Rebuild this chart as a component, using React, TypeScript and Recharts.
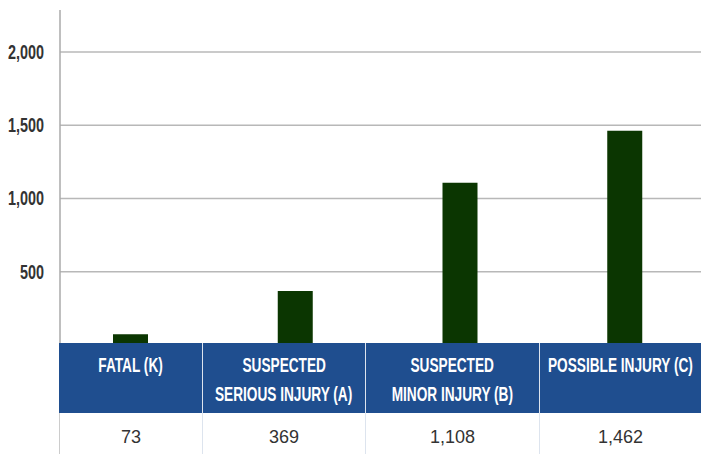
import { BarChart, Bar, XAxis, YAxis, CartesianGrid } from "recharts";

const categories = [
  "FATAL (K)",
  "SUSPECTED\nSERIOUS INJURY (A)",
  "SUSPECTED\nMINOR INJURY (B)",
  "POSSIBLE INJURY (C)",
];
const injuries = [73, 369, 1108, 1462];
const yTicks = [500, 1000, 1500, 2000];

const colWidths = [143, 163, 174, 162];

const chartData = categories.map((name, i) => ({ name, value: injuries[i] }));

const fmt = (v: number) => v.toLocaleString("en-US");

// no narrow font installed, so squeeze a bold sans horizontally
function NarrowTick(props: any) {
  const { x, y, payload } = props;
  return (
    <text
      x={x}
      y={y}
      textAnchor="end"
      dominantBaseline="central"
      transform={`translate(${x} 0) scale(0.72 1) translate(${-x} 0)`}
      fontFamily="'Liberation Sans', Arial, sans-serif"
      fontWeight={700}
      fontSize={20}
      fill="#333"
    >
      {fmt(payload.value)}
    </text>
  );
}

export default function App() {
  return (
    <div
      style={{
        position: "absolute",
        top: 0,
        left: 0,
        width: 701,
        height: 454,
        background: "#fff",
        overflow: "hidden",
      }}
    >
      <BarChart
        width={701}
        height={345}
        data={chartData}
        margin={{ top: 10, right: 0, bottom: 0, left: 0 }}
      >
        <CartesianGrid
          vertical={false}
          horizontalValues={yTicks}
          stroke="#b8b8b8"
          strokeWidth={1.5}
        />
        <XAxis dataKey="name" hide padding={{ left: -12, right: -6 }} />
        <YAxis
          width={60}
          domain={[0, 2287]}
          ticks={yTicks}
          axisLine={{ stroke: "#aaaaaa", strokeWidth: 1.5 }}
          tickLine={false}
          tickSize={0}
          tickMargin={16}
          tick={<NarrowTick />}
        />
        <Bar dataKey="value" fill="#0b3601" barSize={35} isAnimationActive={false} />
      </BarChart>

      <div style={{ position: "absolute", left: 59, top: 343, display: "flex" }}>
        {categories.map((c, i) => (
          <div
            key={c}
            style={{
              width: colWidths[i],
              boxSizing: "border-box",
              borderLeft: i === 0 ? "none" : "1.5px solid #dde4ee",
            }}
          >
            <div
              style={{
                height: 70,
                background: "#1f4e8f",
                color: "#fff",
                paddingTop: 7,
                boxSizing: "border-box",
                fontFamily: "'Liberation Sans', Arial, sans-serif",
                fontWeight: 700,
                fontSize: 21,
                lineHeight: "29px",
                whiteSpace: "nowrap",
              }}
            >
              {c.split("\n").map((line) => (
                <div key={line} style={{ display: "flex", justifyContent: "center" }}>
                  <span style={{ flexShrink: 0, transform: "scaleX(0.65)" }}>{line}</span>
                </div>
              ))}
            </div>
            <div
              style={{
                height: 48,
                lineHeight: "48px",
                textAlign: "center",
                borderLeft: i === 0 ? "1px solid #cccccc" : "none",
                fontFamily: "'Liberation Sans', Arial, sans-serif",
                fontSize: 18,
                color: "#333",
              }}
            >
              {fmt(injuries[i])}
            </div>
          </div>
        ))}
      </div>
    </div>
  );
}
